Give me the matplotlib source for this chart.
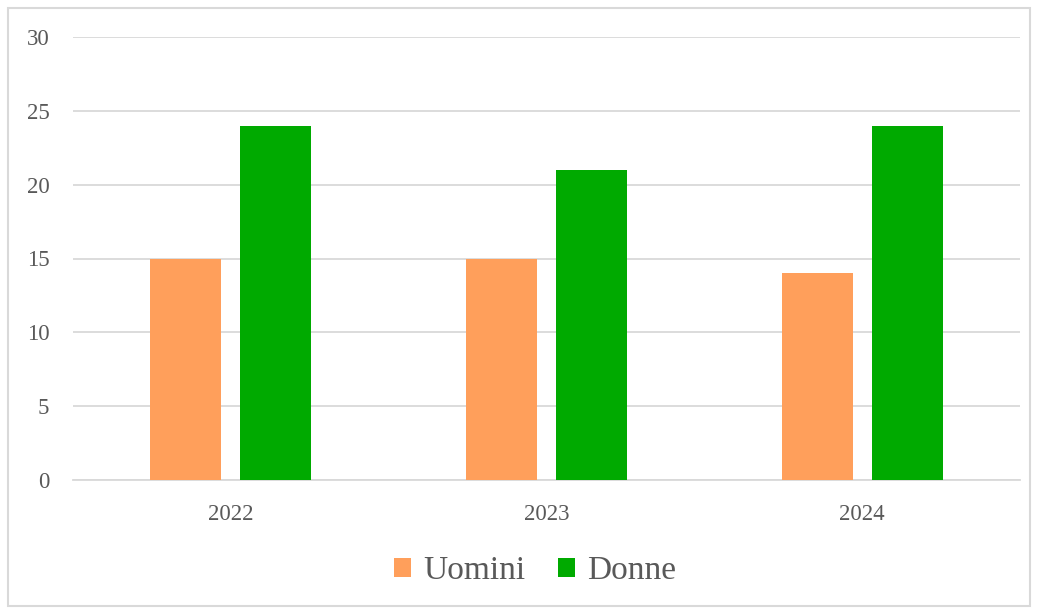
import matplotlib.pyplot as plt
import numpy as np
from matplotlib.patches import Rectangle

# Dati del grafico
anni = ["2022", "2023", "2024"]
uomini = [15, 15, 14]
donne = [24, 21, 24]

plt.rcParams['font.family'] = ['Liberation Serif', 'DejaVu Serif']

fig = plt.figure(figsize=(10.37, 6.10), dpi=100)
ax = fig.add_axes([73 / 1037, 1 - 480 / 610, (1020 - 73) / 1037, (480 - 37) / 610])

x = np.arange(len(anni))
larghezza = 0.225
ax.bar(x - 0.1425, uomini, larghezza, color="#FF9F5B", label="Uomini", zorder=3)
ax.bar(x + 0.1425, donne, larghezza, color="#00AA00", label="Donne", zorder=3)

ax.set_xlim(-0.5, 2.5)
ax.set_ylim(0, 30)
ax.set_yticks(range(0, 31, 5))
ax.set_xticks(x)
ax.set_xticklabels(anni)
ax.yaxis.grid(True, color="#D9D9D9", linewidth=1.3, zorder=0)
for lato in ["top", "right", "left"]:
    ax.spines[lato].set_visible(False)
ax.spines["bottom"].set_color("#D9D9D9")
ax.spines["bottom"].set_linewidth(1.3)
ax.tick_params(axis="both", length=0, colors="#595959", labelsize=16.5)
ax.tick_params(axis="y", pad=17)
ax.tick_params(axis="x", pad=17)

ax.legend(loc="center", bbox_to_anchor=(535 / 1037, 1 - 571 / 610), bbox_transform=fig.transFigure,
          ncol=2, frameon=False, fontsize=24, labelcolor="#595959",
          handlelength=0.5, handleheight=0.5, handletextpad=0.35, columnspacing=1.0)

# Bordo del grafico
fig.patches.append(Rectangle((8 / 1037, 1 - 606 / 610), 1022 / 1037, 598 / 610,
                             transform=fig.transFigure, fill=False,
                             edgecolor="#D9D9D9", linewidth=1.5))

fig.savefig("out.png", dpi=100)
